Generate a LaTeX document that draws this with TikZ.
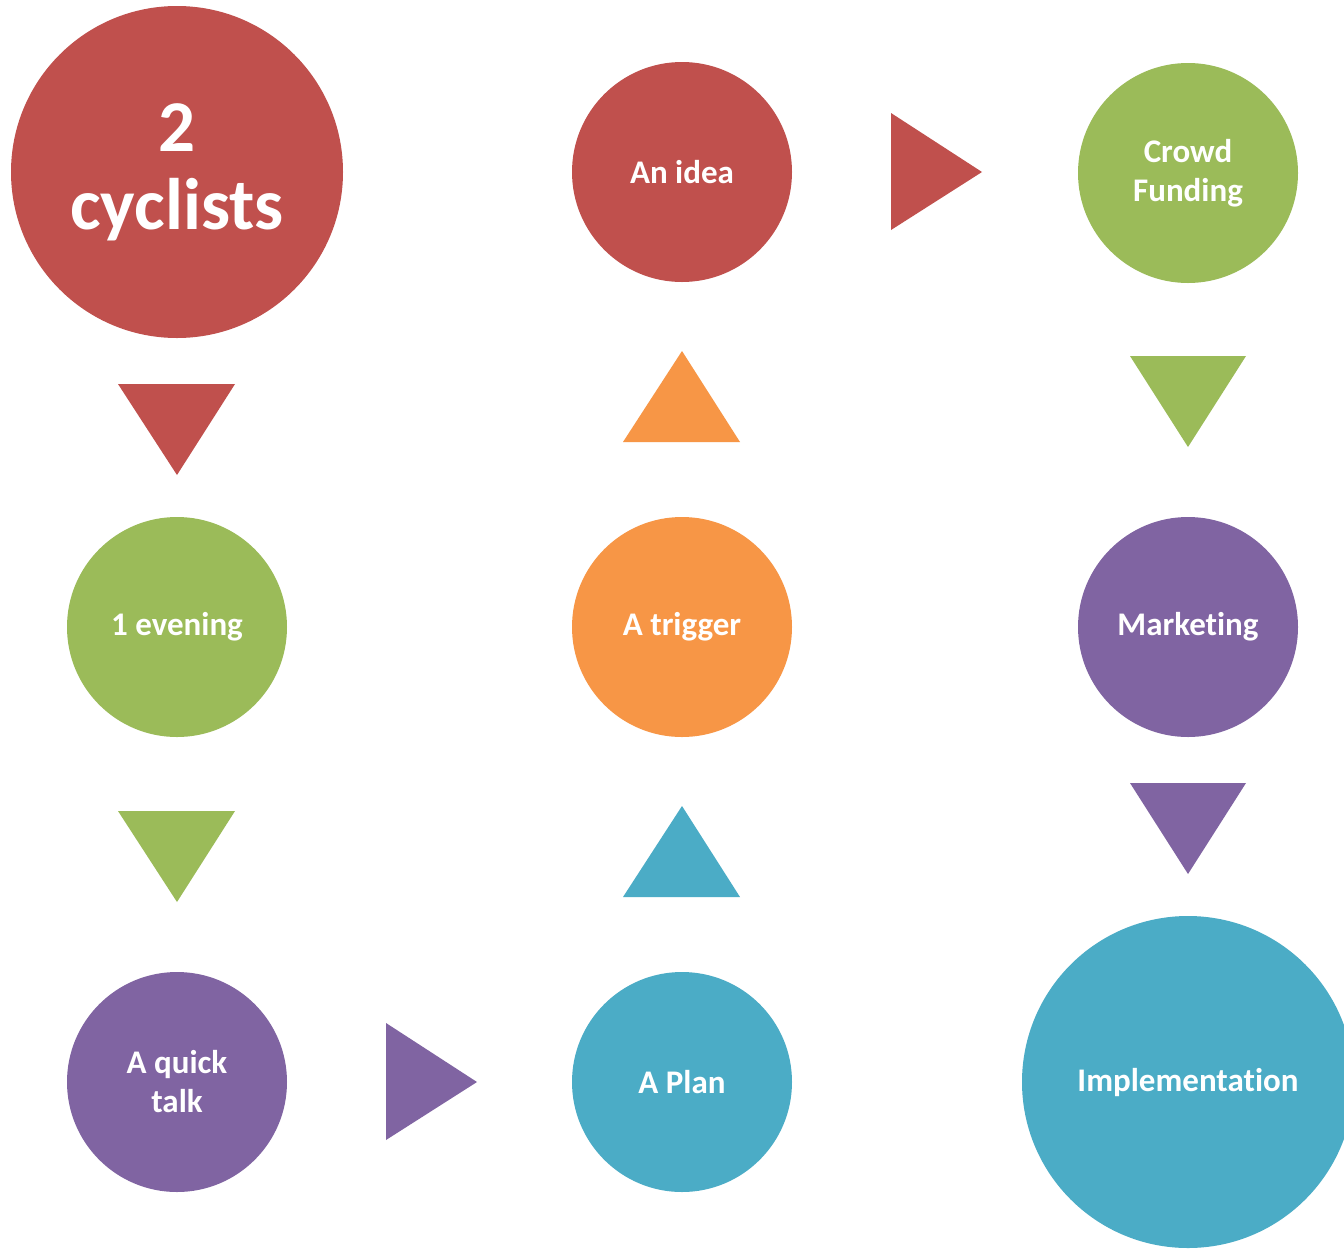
\documentclass[tikz,border=0pt]{standalone}
\usepackage{fontspec}
\setmainfont[RawFeature={-liga;-clig;-dlig;-calt;-hlig}]{Carlito}
\definecolor{cred}{HTML}{C0504D}
\definecolor{cgreen}{HTML}{9BBB59}
\definecolor{corange}{HTML}{F79646}
\definecolor{cpurple}{HTML}{8064A2}
\definecolor{cblue}{HTML}{4BACC6}
\tikzset{
  ball/.style={circle, inner sep=0pt, minimum size=220pt, text=white, align=center,
    font=\bfseries\fontsize{33}{39}\selectfont},
  bigball/.style={ball, minimum size=332pt},
}
\begin{document}
\begin{tikzpicture}[x=1pt,y=-1pt]
\clip (0,0) rectangle (1344,1251);
\fill[white] (0,0) rectangle (1344,1251);
% circles
\node[bigball, fill=cred, font=\bfseries\fontsize{73}{78}\selectfont] (cyc) at (177,172) {2\\cyclists};
\node[ball, fill=cred] (idea) at (682,172) {An idea};
\node[ball, fill=cgreen] (crowd) at (1188,173) {Crowd\\Funding};
\node[ball, fill=cgreen] (eve) at (177,627) {1 evening};
\node[ball, fill=corange] (trig) at (682,627) {A trigger};
\node[ball, fill=cpurple] (mkt) at (1188,627) {Marketing};
\node[ball, fill=cpurple] (talk) at (177,1082) {A quick\\talk};
\node[ball, fill=cblue] (plan) at (682,1082) {A Plan};
\node[bigball, fill=cblue] (impl) at (1188,1082) {Implementation};
% triangle arrows
\fill[cred] (118,384) -- (235,384) -- (177,475) -- cycle;
\fill[cgreen] (118,811) -- (235,811) -- (177,902) -- cycle;
\fill[cpurple] (386,1023) -- (386,1140) -- (477,1082) -- cycle;
\fill[cblue] (623,897) -- (740,897) -- (682,806) -- cycle;
\fill[corange] (623,442) -- (740,442) -- (682,351) -- cycle;
\fill[cred] (891,113) -- (891,230) -- (982,172) -- cycle;
\fill[cgreen] (1130,356) -- (1246,356) -- (1188,447) -- cycle;
\fill[cpurple] (1130,783) -- (1246,783) -- (1188,874) -- cycle;
\end{tikzpicture}
\end{document}
